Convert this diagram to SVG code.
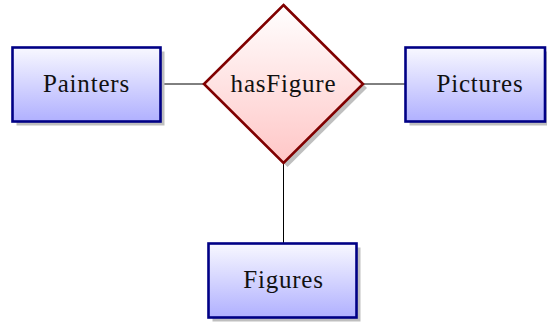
<svg xmlns="http://www.w3.org/2000/svg" width="547" height="322" viewBox="0 0 547 322">
<defs>
<linearGradient id="gBlue" x1="0" y1="0" x2="0" y2="1">
<stop offset="0" stop-color="#f8f8ff"/>
<stop offset="1" stop-color="#b0b0ff"/>
</linearGradient>
<linearGradient id="gRed" x1="0" y1="0" x2="0" y2="1">
<stop offset="0" stop-color="#ffffff"/>
<stop offset="1" stop-color="#ffc6c6"/>
</linearGradient>
<style>
.shadow{fill:#bfbfbf;}
.ent{fill:url(#gBlue);stroke:#000085;stroke-width:2.6;}
.rel{fill:url(#gRed);stroke:#800000;stroke-width:2.6;}
.lbl{font-family:'Liberation Serif',serif;font-size:25px;letter-spacing:0.8px;fill:#111;text-anchor:middle;}
.conn{stroke:#000;stroke-width:1;fill:none;}
</style>
</defs>
<g id="connectors">
<line class="conn" x1="161" y1="84" x2="204" y2="84"/>
<line class="conn" x1="363" y1="84" x2="405" y2="84"/>
<line class="conn" x1="283.5" y1="163" x2="283.5" y2="243"/>
</g>
<g id="Painters">
<rect class="shadow" x="16.5" y="51.5" width="148" height="74"/>
<rect class="ent" x="12.5" y="47.5" width="148" height="74"/>
<text class="lbl" x="86.5" y="92">Painters</text>
</g>
<g id="Pictures">
<rect class="shadow" x="409.5" y="51.5" width="148" height="74"/>
<rect class="ent" x="405.5" y="47.5" width="139.5" height="74"/>
<text class="lbl" x="480" y="92">Pictures</text>
</g>
<g id="Figures">
<rect class="shadow" x="212.5" y="247.5" width="148" height="74"/>
<rect class="ent" x="208.5" y="243.5" width="148" height="74"/>
<text class="lbl" x="283.5" y="288">Figures</text>
</g>
<g id="hasFigure">
<polygon class="shadow" points="287.5,9 367,88 287.5,167 208,88"/>
<polygon class="rel" points="283.5,5 363,84 283.5,163 204,84"/>
<text class="lbl" x="283.5" y="91.5">hasFigure</text>
</g>
</svg>
